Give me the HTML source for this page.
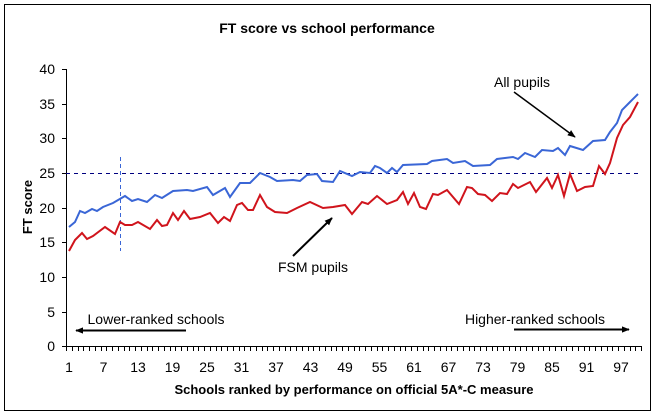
<!DOCTYPE html>
<html><head><meta charset="utf-8"><style>
body{margin:0;background:#fff}
svg{display:block;font-family:"Liberation Sans",Arial,sans-serif}
</style></head><body>
<svg width="654" height="416" viewBox="0 0 654 416" xmlns="http://www.w3.org/2000/svg">
<defs><marker id="ah" viewBox="0 0 10 10" refX="9" refY="5" markerWidth="8" markerHeight="8" orient="auto-start-reverse" markerUnits="userSpaceOnUse"><path d="M0,1 L10,5 L0,9 z" fill="#000"/></marker></defs>
<rect x="4.5" y="4.5" width="646" height="406" fill="#fff" stroke="#000" stroke-width="1"/>
<text x="327" y="33" font-size="14" font-weight="bold" text-anchor="middle">FT score vs school performance</text>
<!-- y axis -->
<g stroke="#000" stroke-width="1">
<line x1="66.5" y1="69" x2="66.5" y2="346"/>
<line x1="66" y1="346.5" x2="642" y2="346.5"/>
<line x1="62" y1="69.5" x2="66" y2="69.5"/><line x1="62" y1="104.5" x2="66" y2="104.5"/><line x1="62" y1="138.5" x2="66" y2="138.5"/><line x1="62" y1="173.5" x2="66" y2="173.5"/><line x1="62" y1="208.5" x2="66" y2="208.5"/><line x1="62" y1="242.5" x2="66" y2="242.5"/><line x1="62" y1="277.5" x2="66" y2="277.5"/><line x1="62" y1="312.5" x2="66" y2="312.5"/><line x1="62" y1="346.5" x2="66" y2="346.5"/>
</g>
<g id="xt" stroke="#000" stroke-width="1"></g>
<g font-size="14" text-anchor="end">
<text x="55" y="74">40</text><text x="55" y="109">35</text><text x="55" y="143">30</text><text x="55" y="178">25</text><text x="55" y="213">20</text><text x="55" y="247">15</text><text x="55" y="282">10</text><text x="55" y="317">5</text><text x="55" y="351">0</text>
</g>
<g font-size="14" text-anchor="middle">
<text x="69" y="372">1</text><text x="103.5" y="372">7</text><text x="138" y="372">13</text><text x="172.5" y="372">19</text><text x="207" y="372">25</text><text x="241.5" y="372">31</text><text x="276" y="372">37</text><text x="310.5" y="372">43</text><text x="345" y="372">49</text><text x="379.5" y="372">55</text><text x="414" y="372">61</text><text x="448.5" y="372">67</text><text x="483" y="372">73</text><text x="517.5" y="372">79</text><text x="552" y="372">85</text><text x="586.5" y="372">91</text><text x="621" y="372">97</text>
</g>
<text x="354" y="394" font-size="13" font-weight="bold" text-anchor="middle">Schools ranked by performance on official 5A*-C measure</text>
<text transform="translate(32,207) rotate(-90)" font-size="13" font-weight="bold" text-anchor="middle">FT score</text>
<line x1="66" y1="173.5" x2="640" y2="173.5" stroke="#000080" stroke-width="1" stroke-dasharray="4,4"/>
<line x1="120.5" y1="157" x2="120.5" y2="251" stroke="#3a66d6" stroke-width="1" stroke-dasharray="4,3"/>
<polyline fill="none" stroke="#3a66d6" stroke-width="2" points="69,227 75,222 80,211 85,213 92,209 97,211 103,207 113,203 125,196 132,201 138,199 147,202 155,195 162,198 173,191 187,190 193,191 207,187 213,195 225,188 230,197 240,183 250,183 260,173 270,177 277,181 293,180 300,181 307,175 317,174 322,181 333,182 340,171 352,176 360,172 370,173 375,166 380,168 387,173 392,168 397,172 403,165 427,164 432,161 447,159 453,163 465,161 473,166 490,165 497,159 513,157 518,159 525,153 535,157 542,150 553,151 558,148 565,155 570,146 583,150 593,141 605,140 610,132 617,123 622,110 630,102 638,94"/>
<polyline fill="none" stroke="#d0141c" stroke-width="2" points="69,251 75,240 82,233 87,239 93,236 105,227 115,234 120,222 125,225 132,225 138,222 150,229 157,220 162,226 167,225 173,213 178,220 184,211 190,219 200,217 210,213 218,223 224,217 230,221 237,205 242,203 248,210 253,210 260,195 267,207 275,212 287,213 297,208 310,202 323,208 333,207 345,205 352,214 362,202 368,204 377,196 387,204 397,200 403,192 408,204 414,193 420,207 426,209 433,194 438,195 447,190 459,204 467,187 472,188 478,194 485,195 492,201 500,193 507,194 513,184 518,188 530,182 536,192 547,178 552,188 558,175 564,196 570,174 577,191 585,187 593,186 599,166 605,174 610,163 617,138 623,125 630,117 638,102"/>
<line x1="514" y1="92" x2="575" y2="137" stroke="#000" stroke-width="1.5" marker-end="url(#ah)"/>
<text x="522" y="87" font-size="14" text-anchor="middle">All pupils</text>
<line x1="293" y1="256" x2="332" y2="218" stroke="#000" stroke-width="2" marker-end="url(#ah)"/>
<text x="313" y="272" font-size="14" text-anchor="middle">FSM pupils</text>
<text x="156" y="324" font-size="14" text-anchor="middle">Lower-ranked schools</text>
<line x1="186" y1="330.5" x2="76" y2="330.5" stroke="#000" stroke-width="2" marker-end="url(#ah)"/>
<text x="535" y="324" font-size="14" text-anchor="middle">Higher-ranked schools</text>
<line x1="514" y1="329.5" x2="629" y2="329.5" stroke="#000" stroke-width="2" marker-end="url(#ah)"/>
</svg>
<script>
var g=document.getElementById('xt'),s='';
for(var i=0;i<=100;i++){var x=(66+i*5.75).toFixed(1);x=Math.round(x)+0.5;s+='<line x1="'+x+'" y1="346" x2="'+x+'" y2="351"/>';}
g.innerHTML=s;
</script>
</body></html>
